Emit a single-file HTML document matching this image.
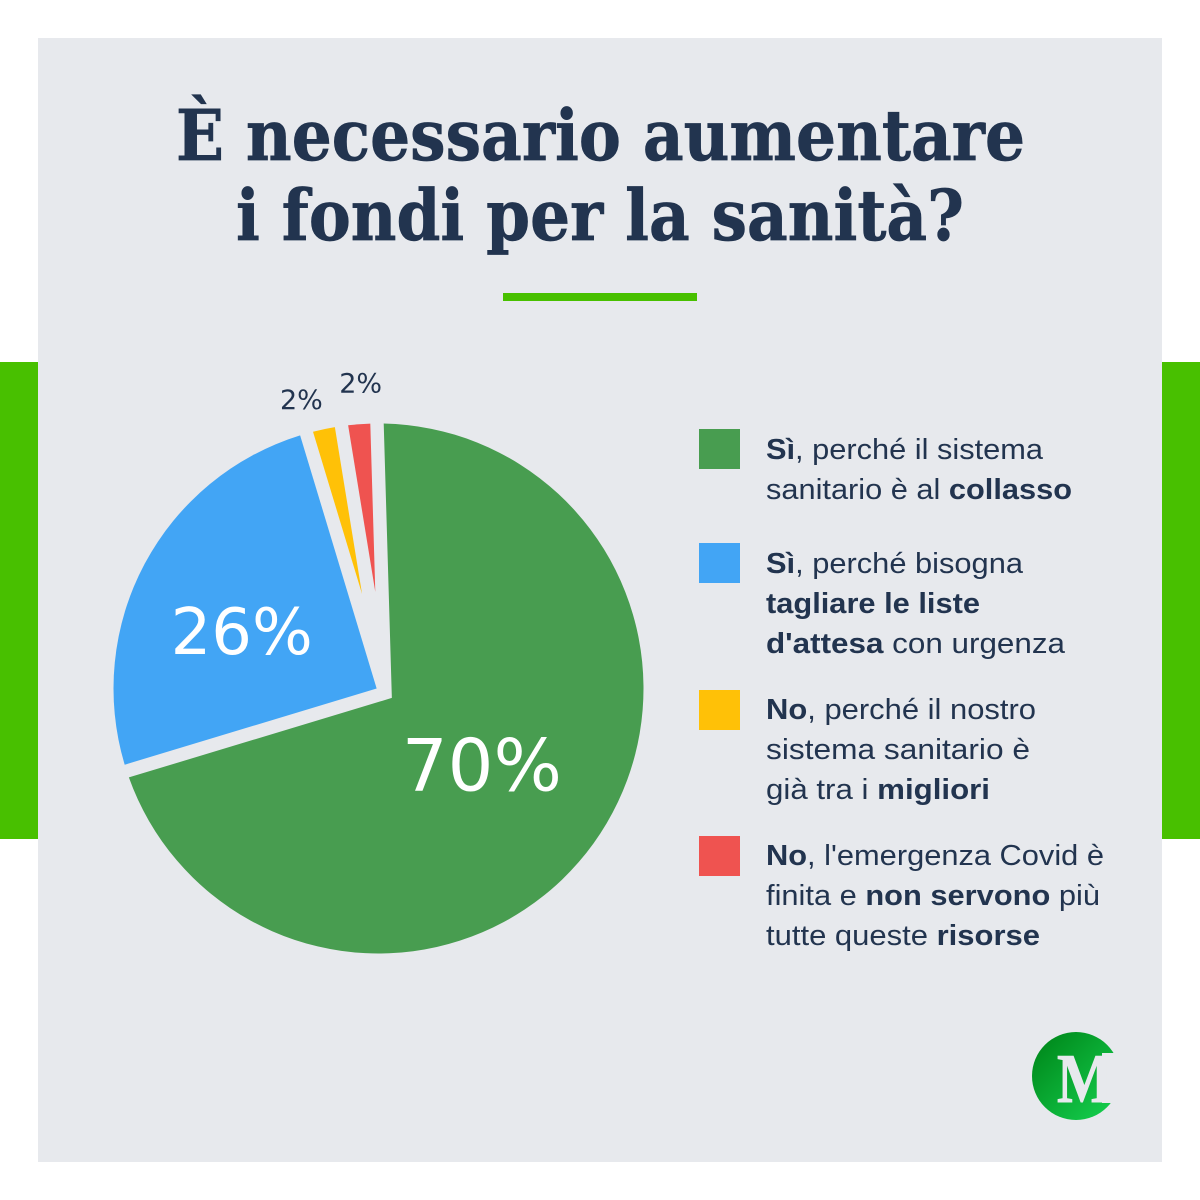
<!DOCTYPE html>
<html lang="it">
<head>
<meta charset="utf-8">
<title>È necessario aumentare i fondi per la sanità?</title>
<style>
html,body{margin:0;padding:0;background:#fff;width:1200px;height:1200px;overflow:hidden}
svg{display:block}
.title{font-family:"DejaVu Serif","Liberation Serif",serif;font-weight:700;font-size:70px;fill:#22344f;stroke:#22344f;stroke-width:0.7px}
.lg{font-family:"Liberation Sans","DejaVu Sans",sans-serif;font-size:29px;fill:#22344f}
.lg tspan.b{font-weight:700}
.pct{font-family:"DejaVu Sans","Liberation Sans",sans-serif;text-anchor:middle}
</style>
</head>
<body>
<svg id="chart" xmlns="http://www.w3.org/2000/svg" width="1200" height="1200" viewBox="0 0 1200 1200">
  <rect x="0" y="0" width="1200" height="1200" fill="#ffffff"/>
  <rect x="0" y="362" width="38" height="477" fill="#48c000"/>
  <rect x="1162" y="362" width="38" height="477" fill="#48c000"/>
  <rect x="38" y="38" width="1124" height="1124" fill="#e7e9ed"/>

  <text class="title" x="176" y="160" textLength="849" lengthAdjust="spacingAndGlyphs">È necessario aumentare</text>
  <text class="title" x="236" y="240" textLength="728" lengthAdjust="spacingAndGlyphs">i fondi per la sanità?</text>
  <rect x="503" y="293" width="194" height="8" fill="#48c000"/>

  <g id="pie"></g>

  <g>
    <g>
      <rect x="699" y="429" width="41" height="40" fill="#489d50"/>
      <text class="lg" x="766" y="459" textLength="277" lengthAdjust="spacingAndGlyphs"><tspan class="b">Sì</tspan>, perché il sistema</text>
      <text class="lg" x="766" y="499" textLength="306" lengthAdjust="spacingAndGlyphs">sanitario è al <tspan class="b">collasso</tspan></text>
    </g>
    <g>
      <rect x="699" y="543" width="41" height="40" fill="#42a5f5"/>
      <text class="lg" x="766" y="573" textLength="257" lengthAdjust="spacingAndGlyphs"><tspan class="b">Sì</tspan>, perché bisogna</text>
      <text class="lg" x="766" y="613" textLength="214" lengthAdjust="spacingAndGlyphs"><tspan class="b">tagliare le liste</tspan></text>
      <text class="lg" x="766" y="653" textLength="299" lengthAdjust="spacingAndGlyphs"><tspan class="b">d'attesa</tspan> con urgenza</text>
    </g>
    <g>
      <rect x="699" y="690" width="41" height="40" fill="#ffc107"/>
      <text class="lg" x="766" y="719" textLength="270" lengthAdjust="spacingAndGlyphs"><tspan class="b">No</tspan>, perché il nostro</text>
      <text class="lg" x="766" y="759" textLength="264" lengthAdjust="spacingAndGlyphs">sistema sanitario è</text>
      <text class="lg" x="766" y="799" textLength="224" lengthAdjust="spacingAndGlyphs">già tra i <tspan class="b">migliori</tspan></text>
    </g>
    <g>
      <rect x="699" y="836" width="41" height="40" fill="#ef5350"/>
      <text class="lg" x="766" y="865" textLength="338" lengthAdjust="spacingAndGlyphs"><tspan class="b">No</tspan>, l'emergenza Covid è</text>
      <text class="lg" x="766" y="905" textLength="334" lengthAdjust="spacingAndGlyphs">finita e <tspan class="b">non servono</tspan> più</text>
      <text class="lg" x="766" y="945" textLength="274" lengthAdjust="spacingAndGlyphs">tutte queste <tspan class="b">risorse</tspan></text>
    </g>
  </g>

  <g>
    <defs>
      <linearGradient id="logoGrad" x1="0.1" y1="0.1" x2="0.9" y2="0.9">
        <stop offset="0" stop-color="#008a1c"/>
        <stop offset="1" stop-color="#14cc4c"/>
      </linearGradient>
    </defs>
    <circle cx="1076" cy="1076" r="44" fill="url(#logoGrad)"/>
    <rect x="1102" y="1053" width="20" height="50" fill="#e7e9ed"/>
    <text x="1057" y="1102" textLength="56" lengthAdjust="spacingAndGlyphs" font-family="'Liberation Serif',serif" font-weight="700" font-size="70" fill="#e7e9ed" stroke="#e7e9ed" stroke-width="1">M</text>
  </g>
</svg>

<script>
// Chart data
const categories = ["Sì, collasso", "Sì, liste d'attesa", "No, migliori", "No, Covid"];
const sliceShares = [70.8, 25, 2.1, 2.1];
const printedValues = ["70%", "26%", "2%", "2%"];
const sliceColors = ["#489d50", "#42a5f5", "#ffc107", "#ef5350"];

// Layout constants
const circleX = 378.5, circleY = 688.5, radius = 265;
const apexX = 385, apexY = 693, gapInset = 6.7, startAngle = -1.7;

function angleScale(share) { return share / 100 * 360; }
function dir(deg) { const a = deg * Math.PI / 180; return [Math.sin(a), -Math.cos(a)]; }
function rayToCircle(px, py, deg) {
  const d = dir(deg), fx = px - circleX, fy = py - circleY;
  const b = fx * d[0] + fy * d[1], c = fx * fx + fy * fy - radius * radius;
  const t = -b + Math.sqrt(b * b - c);
  return [px + d[0] * t, py + d[1] * t];
}
function f(n) { return n.toFixed(2); }

const pie = document.getElementById('pie');
const NS = 'http://www.w3.org/2000/svg';
let cursor = startAngle;
sliceShares.forEach(function (share, i) {
  const sweep = angleScale(share);
  const a0 = cursor, a1 = cursor + sweep, mid = (a0 + a1) / 2;
  cursor = a1;
  const bis = dir(mid);
  const k = gapInset / Math.sin(sweep / 2 * Math.PI / 180);
  const tx = apexX + bis[0] * k, ty = apexY + bis[1] * k;
  const p0 = rayToCircle(tx, ty, a0), p1 = rayToCircle(tx, ty, a1);
  const large = sweep > 180 ? 1 : 0;
  const path = document.createElementNS(NS, 'path');
  path.setAttribute('d', 'M' + f(tx) + ' ' + f(ty) + 'L' + f(p0[0]) + ' ' + f(p0[1]) +
    'A' + radius + ' ' + radius + ' 0 ' + large + ' 1 ' + f(p1[0]) + ' ' + f(p1[1]) + 'Z');
  path.setAttribute('fill', sliceColors[i]);
  
  
  pie.appendChild(path);
});

cursor = startAngle;
sliceShares.forEach(function (share, i) {
  const sweep = angleScale(share), mid = cursor + sweep / 2;
  cursor += sweep;
  const small = share < 5;
  const d = dir(mid);
  const r = small ? radius + 37 : (share > 50 ? radius * 0.49 : radius * 0.56);
  const nudgeX = small ? (i === 2 ? -9 : 11) : (share > 50 ? -2 : -6);
  const nudgeY = small ? (i === 2 ? 5 : -5) : (share > 50 ? 0 : 12);
  const size = small ? 27 : (share > 50 ? 72 : 64);
  const t = document.createElementNS(NS, 'text');
  t.setAttribute('class', 'pct');
  t.setAttribute('x', f(circleX + d[0] * r + nudgeX));
  t.setAttribute('y', f(circleY + d[1] * r + nudgeY + size * 0.365));
  t.setAttribute('font-size', size);
  t.setAttribute('fill', small ? '#22344f' : '#ffffff');
  
  
  t.textContent = printedValues[i];
  pie.appendChild(t);
});
</script>
</body>
</html>
